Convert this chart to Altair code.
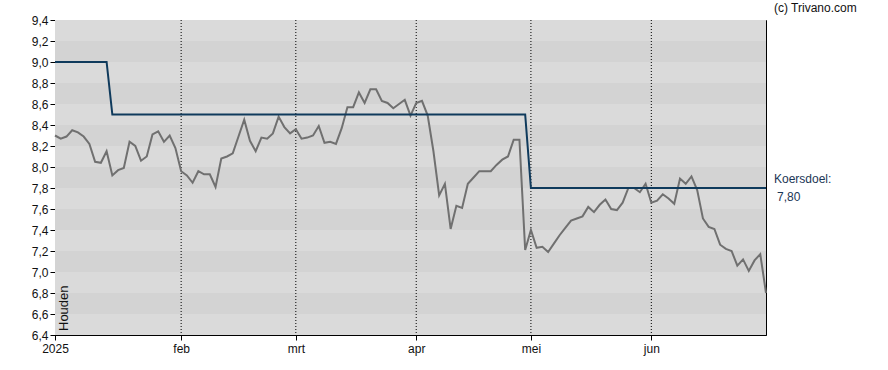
import altair as alt
import pandas as pd

# Trading-day index (0 = 2 Jan 2025, 124 = 30 Jun 2025)
price = [
    8.30, 8.27, 8.29, 8.35, 8.33, 8.29, 8.22, 8.05, 8.04, 8.15,
    7.92, 7.97, 7.99, 8.24, 8.20, 8.06, 8.10, 8.31, 8.34, 8.24,
    8.30, 8.18, 7.96, 7.92, 7.85, 7.96, 7.93, 7.93, 7.81, 8.08,
    8.10, 8.13, 8.29, 8.45, 8.25, 8.15, 8.28, 8.27, 8.32, 8.48,
    8.38, 8.32, 8.36, 8.27, 8.28, 8.30, 8.39, 8.23, 8.24, 8.22,
    8.37, 8.57, 8.57, 8.71, 8.61, 8.74, 8.74, 8.63, 8.61, 8.56,
    8.60, 8.64, 8.49, 8.61, 8.63, 8.49, 8.15, 7.73, 7.84, 7.41,
    7.63, 7.61, 7.84, 7.90, 7.96, 7.96, 7.96, 8.02, 8.07, 8.10,
    8.26, 8.26, 7.21, 7.40, 7.23, 7.24, 7.19, 7.27, 7.35, 7.42,
    7.49, 7.51, 7.53, 7.62, 7.57, 7.64, 7.69, 7.60, 7.59, 7.66,
    7.80, 7.80, 7.76, 7.84, 7.66, 7.68, 7.74, 7.70, 7.65, 7.89,
    7.84, 7.91, 7.78, 7.51, 7.43, 7.41, 7.26, 7.22, 7.20, 7.06,
    7.12, 7.01, 7.11, 7.17, 6.80,
]
target = [9.0] * 10 + [8.5] * 73 + [7.8] * 42

tick_idx = [0, 22, 42, 63, 83, 104]
tick_lbl = ["2025", "feb", "mrt", "apr", "mei", "jun"]

band_lo = [6.6, 7.0, 7.4, 7.8, 8.2, 8.6, 9.0]
band_hi = [6.8, 7.2, 7.6, 8.0, 8.4, 8.8, 9.2]

y_ticks = [6.4, 6.6, 6.8, 7.0, 7.2, 7.4, 7.6, 7.8, 8.0, 8.2, 8.4, 8.6, 8.8, 9.0, 9.2, 9.4]
target_now = 7.80

n = len(price)
df = pd.DataFrame({"i": list(range(n)), "price": price, "target": target})
bands = pd.DataFrame({"lo": band_lo, "hi": band_hi, "x0": [0] * len(band_lo), "x1": [n - 1] * len(band_lo)})

W, H = 711, 315
xscale = alt.Scale(domain=[0, n - 1], nice=False, zero=False)
yscale = alt.Scale(domain=[6.4, 9.4], nice=False, zero=False)

lbl_expr = " : ".join(
    f"datum.value == {v} ? '{l}'" for v, l in zip(tick_idx, tick_lbl)
) + " : ''"

FONT = "Liberation Sans"

x_axis = alt.Axis(
    values=tick_idx,
    labelExpr=lbl_expr,
    title=None,
    grid=False,
    domainColor="#000000",
    tickColor="#000000",
    tickSize=5,
    labelFont=FONT,
    labelFontSize=12,
    labelColor="#111111",
    labelPadding=3,
    labelFlush=False,
    labelOverlap=False,
)
y_axis = alt.Axis(
    values=y_ticks,
    labelExpr="replace(format(datum.value, '.1f'), '.', ',')",
    title=None,
    grid=False,
    domainColor="#000000",
    tickColor="#000000",
    tickSize=5,
    labelFont=FONT,
    labelFontSize=12,
    labelColor="#111111",
    labelPadding=2,
    labelFlush=False,
    labelOverlap=False,
)

base_bg = alt.Chart(pd.DataFrame({"a": [0]})).mark_rect(color="#dadada").encode(
    x=alt.value(0), x2=alt.value(W), y=alt.value(0), y2=alt.value(H)
)

band_layer = alt.Chart(bands).mark_rect(color="#d3d3d3").encode(
    x=alt.X("x0:Q", scale=xscale, axis=x_axis),
    x2="x1:Q",
    y=alt.Y("lo:Q", scale=yscale, axis=y_axis),
    y2="hi:Q",
)

vgrid = alt.Chart(pd.DataFrame({"t": tick_idx[1:]})).mark_rule(
    color="#000000", strokeDash=[1, 2], strokeWidth=1
).encode(x=alt.X("t:Q", scale=xscale, axis=x_axis))

price_line = alt.Chart(df).mark_line(color="#707070", strokeWidth=2).encode(
    x=alt.X("i:Q", scale=xscale, axis=x_axis),
    y=alt.Y("price:Q", scale=yscale, axis=y_axis),
)

target_line = alt.Chart(df).mark_line(color="#0f3a5c", strokeWidth=2).encode(
    x=alt.X("i:Q", scale=xscale, axis=x_axis),
    y=alt.Y("target:Q", scale=yscale, axis=y_axis),
)

houden = alt.Chart(pd.DataFrame({"t": ["Houden"]})).mark_text(
    angle=270, align="left", baseline="middle", font=FONT, fontSize=13, color="#111111"
).encode(text="t:N", x=alt.value(9), y=alt.value(311))

credit = alt.Chart(pd.DataFrame({"t": ["(c) Trivano.com"]})).mark_text(
    align="left", baseline="middle", font=FONT, fontSize=12, color="#111111"
).encode(text="t:N", x=alt.value(719), y=alt.value(-12))

kd = pd.DataFrame({"v": [target_now], "t": ["Koersdoel:"], "n": ["7,80"]})
kd_label = alt.Chart(kd).mark_text(
    align="left", baseline="middle", font=FONT, fontSize=12, color="#1b3656", dy=-9
).encode(text="t:N", x=alt.value(719), y=alt.Y("v:Q", scale=yscale, axis=y_axis))
kd_value = alt.Chart(kd).mark_text(
    align="left", baseline="middle", font=FONT, fontSize=12, color="#1b3656", dy=9
).encode(text="n:N", x=alt.value(722), y=alt.Y("v:Q", scale=yscale, axis=y_axis))

chart = alt.layer(
    base_bg, band_layer, vgrid, price_line, target_line, houden, credit, kd_label, kd_value
).properties(
    width=W,
    height=H,
    padding={"left": 55, "top": 20, "right": 122, "bottom": 35},
    autosize=alt.AutoSizeParams(type="none"),
    background="#ffffff",
).configure_view(stroke="#000000", strokeWidth=1)

chart.save("out.html", embed_options={"renderer": "svg", "actions": False})
